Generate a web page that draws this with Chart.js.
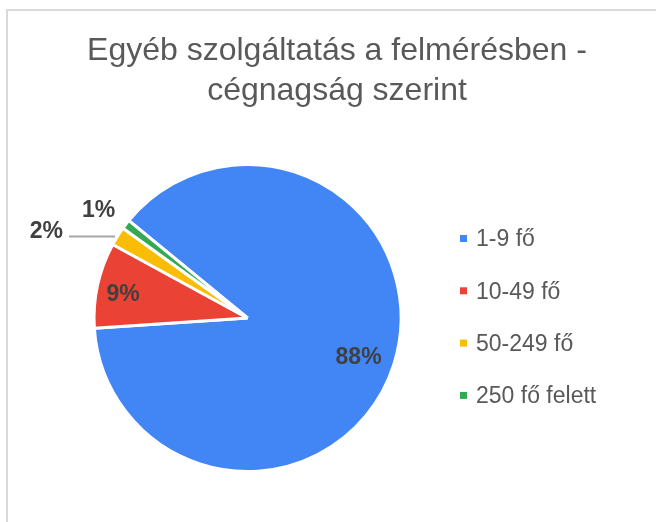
<!DOCTYPE html>
<html>
<head>
<meta charset="utf-8">
<script src="https://cdn.jsdelivr.net/npm/chart.js@4.4.1/dist/chart.umd.min.js"></script>
<style>
  html, body { margin: 0; padding: 0; background: #fff; overflow: hidden; }
  #frame {
    position: absolute; left: 6px; top: 9px; width: 700px; height: 560px;
    border-top: 2px solid #dadada; border-left: 2px solid #dadada;
  }
  #chart { position: absolute; left: 0; top: 0; }
</style>
</head>
<body>
<div id="frame"></div>
<canvas id="chart" width="674" height="522"></canvas>
<script>
const TITLE_LINES = ['Egyéb szolgáltatás a felmérésben -', 'cégnagság szerint'];
const CATEGORIES = ['1-9 fő', '10-49 fő', '50-249 fő', '250 fő felett'];
const SHARES = [88, 9, 2, 1];
const COLORS = ['#4285f4', '#ea4335', '#fbbc04', '#34a853'];

const FONT = 'Liberation Sans, Arial, sans-serif';

// two-line title centred over the whole card (the built-in one would be
// squeezed into the pie's narrow column)
const cardTitle = {
  id: 'cardTitle',
  afterDraw(chart) {
    const { ctx } = chart;
    ctx.save();
    ctx.font = `32px ${FONT}`;
    ctx.fillStyle = '#595959';
    ctx.textAlign = 'center';
    ctx.textBaseline = 'alphabetic';
    TITLE_LINES.forEach((line, i) => ctx.fillText(line, chart.width / 2, 60 + i * 39.5));
    ctx.restore();
  }
};

// percentage labels: big slices inside, small ones pulled outside
const sliceLabels = {
  id: 'sliceLabels',
  afterDatasetsDraw(chart) {
    const { ctx } = chart;
    const meta = chart.getDatasetMeta(0);
    const values = chart.data.datasets[0].data;
    const total = values.reduce((a, b) => a + b, 0);
    ctx.save();
    ctx.font = `bold 23px ${FONT}`;
    ctx.fillStyle = '#404040';
    meta.data.forEach((arc, i) => {
      const { x, y, startAngle, endAngle, outerRadius } = arc.getProps(['x', 'y', 'startAngle', 'endAngle', 'outerRadius'], true);
      const mid = (startAngle + endAngle) / 2;
      const share = values[i] / total;
      const pct = Math.round(share * 100) + '%';
      if (share >= 0.05) {
        const r = outerRadius * (share > 0.5 ? 0.76 : 0.83);
        ctx.textAlign = 'center';
        ctx.textBaseline = 'middle';
        ctx.fillText(pct, x + Math.cos(mid) * r, y + Math.sin(mid) * r + 4);
      } else if (share >= 0.015) {
        // leader line running left from the rim
        const r = outerRadius * 1.02;
        const sx = x + Math.cos(mid) * r;
        const sy = y + Math.sin(mid) * r + 2;
        ctx.strokeStyle = '#a6a6a6';
        ctx.lineWidth = 2;
        ctx.beginPath();
        ctx.moveTo(sx, sy);
        ctx.lineTo(sx - 46, sy);
        ctx.stroke();
        ctx.textAlign = 'right';
        ctx.textBaseline = 'alphabetic';
        ctx.fillText(pct, sx - 52, sy + 1);
      } else {
        const r = outerRadius * 1.2;
        ctx.textAlign = 'center';
        ctx.textBaseline = 'middle';
        ctx.fillText(pct, x + Math.cos(mid) * r - 3, y + Math.sin(mid) * r + 5);
      }
    });
    ctx.restore();
  }
};

// legend column on the right, square markers
const sideLegend = {
  id: 'sideLegend',
  afterDraw(chart) {
    const { ctx } = chart;
    const colors = chart.data.datasets[0].backgroundColor;
    ctx.save();
    ctx.font = `23px ${FONT}`;
    ctx.textBaseline = 'middle';
    ctx.textAlign = 'left';
    chart.data.labels.forEach((label, i) => {
      const cy = 239 + i * 52.3;
      ctx.fillStyle = colors[i];
      ctx.fillRect(460, cy - 4, 7, 7);
      ctx.fillStyle = '#595959';
      ctx.fillText(label, 476, cy + 1);
    });
    ctx.restore();
  }
};

new Chart(document.getElementById('chart'), {
  type: 'pie',
  data: {
    labels: CATEGORIES,
    datasets: [{
      data: SHARES,
      backgroundColor: COLORS,
      borderColor: '#ffffff',
      borderWidth: 3,
      hoverOffset: 0
    }]
  },
  options: {
    responsive: false,
    animation: false,
    rotation: -50.6,
    layout: { padding: { left: 92.5, right: 271.5, top: 163, bottom: 49 } },
    plugins: {
      legend: { display: false },
      tooltip: { enabled: false },
      title: { display: false }
    }
  },
  plugins: [sliceLabels, sideLegend, cardTitle]
});
</script>
</body>
</html>
